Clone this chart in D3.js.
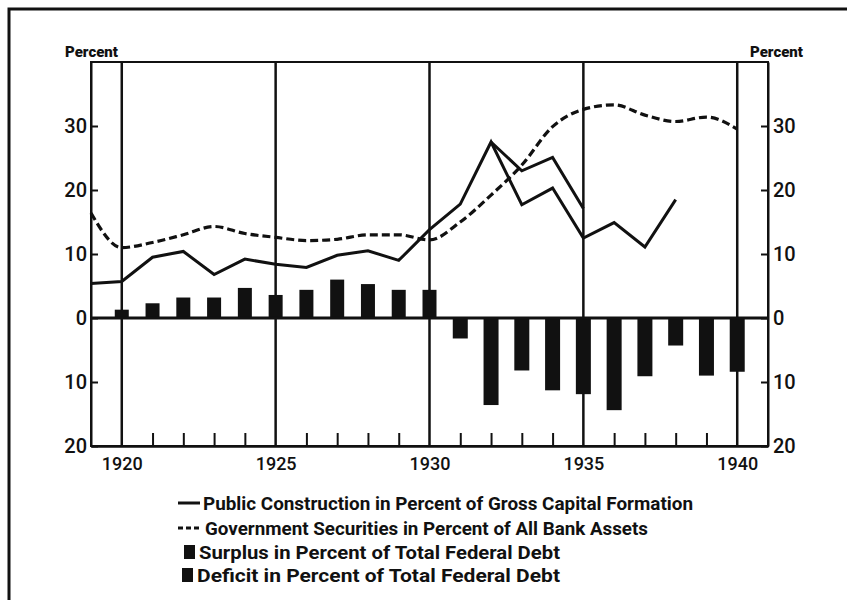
<!DOCTYPE html>
<html><head><meta charset="utf-8">
<script src="https://cdn.jsdelivr.net/npm/d3@7"></script>
<style>body{margin:0;background:#fff}svg{display:block}</style>
</head><body><svg id="c" width="847" height="600"></svg>
<script>
// ---- data ----
const lineYears = [1919,1920,1921,1922,1923,1924,1925,1926,1927,1928,1929,1930,1931,1932,1933,1934,1935,1936,1937,1938];
const publicConstruction = [5.4,5.7,9.5,10.4,6.8,9.2,8.4,7.9,9.8,10.5,9.0,13.8,17.8,27.5,17.7,20.3,12.5,14.9,11.1,18.5];
const altYears = [1932,1933,1934,1935];
const publicConstructionAlt = [27.5,23.0,25.1,17.1];
const govYears = [1919,1920,1921,1922,1923,1924,1925,1926,1927,1928,1929,1930,1931,1932,1933,1934,1935,1936,1937,1938,1939,1940];
const govSecurities = [16.4,11.0,11.8,13.0,14.3,13.2,12.6,12.1,12.3,13.0,13.0,12.2,15.0,19.2,23.9,29.9,32.6,33.3,31.7,30.7,31.4,29.5];
const surplusYears = [1920,1921,1922,1923,1924,1925,1926,1927,1928,1929,1930];
const surplus = [1.3,2.3,3.2,3.2,4.7,3.6,4.4,6.0,5.3,4.4,4.4];
const deficitYears = [1931,1932,1933,1934,1935,1936,1937,1938,1939,1940];
const deficit = [3.2,13.6,8.2,11.3,11.9,14.4,9.1,4.3,9.0,8.4];
const majorYears = [1920,1925,1930,1935,1940];
const minorYears = [1921,1922,1923,1924,1926,1927,1928,1929,1931,1932,1933,1934,1936,1937,1938,1939];
const yTicks = [-20,-10,0,10,20,30];
const legendLabels = [
  "Public Construction in Percent of Gross Capital Formation",
  "Government Securities in Percent of All Bank Assets",
  "Surplus in Percent of Total Federal Debt",
  "Deficit in Percent of Total Federal Debt"
];

const svg = d3.select("#c");
const L = 91, R = 768, T = 62, B = 446;
const x = d3.scaleLinear().domain([1919, 1941]).range([L, R]);
const y = d3.scaleLinear().domain([-20, 40]).range([B, T]);
const FONT = "Roboto, 'DejaVu Sans', sans-serif";
const ink = "#111";

// page border (scan frame)
svg.append("path").attr("d", "M9,600 V9 H847").attr("fill", "none").attr("stroke", ink).attr("stroke-width", 3);

// plot frame
svg.append("rect").attr("x", L).attr("y", T).attr("width", R - L).attr("height", B - T)
  .attr("fill", "none").attr("stroke", ink).attr("stroke-width", 2);

// major vertical grid lines
svg.append("g").selectAll("line").data(majorYears).join("line")
  .attr("x1", d => x(d)).attr("x2", d => x(d)).attr("y1", T).attr("y2", B)
  .attr("stroke", ink).attr("stroke-width", 2.5);

// axes
const axL = svg.append("g").attr("transform", `translate(${L},0)`)
  .call(d3.axisLeft(y).tickValues(yTicks).tickSize(-7).tickSizeOuter(0).tickPadding(4).tickFormat(d => Math.abs(d)));
const axR = svg.append("g").attr("transform", `translate(${R},0)`)
  .call(d3.axisRight(y).tickValues(yTicks).tickSize(-7).tickSizeOuter(0).tickPadding(5).tickFormat(d => Math.abs(d)));
const axB = svg.append("g").attr("transform", `translate(0,${B})`)
  .call(d3.axisBottom(x).tickValues(majorYears).tickSize(0).tickPadding(11).tickFormat(d3.format("d")));
const axM = svg.append("g").attr("transform", `translate(0,${B})`)
  .call(d3.axisBottom(x).tickValues(minorYears).tickSize(-13).tickSizeOuter(0).tickFormat(""));
[axL, axR, axB, axM].forEach(g => {
  g.select(".domain").attr("stroke", ink).attr("stroke-width", 2);
  g.selectAll(".tick line").attr("stroke", ink).attr("stroke-width", 2);
  g.selectAll("text").attr("fill", ink).style("font-family", FONT).style("font-weight", 500);
});
axL.selectAll("text").style("font-size", "20px");
axR.selectAll("text").style("font-size", "20px");
axB.selectAll("text").style("font-size", "18px");

// bars
svg.append("g").selectAll("rect").data(surplusYears.map((yr, i) => [yr, surplus[i]])).join("rect")
  .attr("x", d => x(d[0]) - 7).attr("width", 14)
  .attr("y", d => y(d[1])).attr("height", d => y(0) - y(d[1])).attr("fill", ink);
svg.append("g").selectAll("rect").data(deficitYears.map((yr, i) => [yr, -deficit[i]])).join("rect")
  .attr("x", d => x(d[0]) - 7.5).attr("width", 15)
  .attr("y", y(0)).attr("height", d => y(d[1]) - y(0)).attr("fill", ink);

// zero line
svg.append("line").attr("x1", L).attr("x2", R).attr("y1", y(0)).attr("y2", y(0))
  .attr("stroke", ink).attr("stroke-width", 3);

// lines
const solid = d3.line().x(d => x(d[0])).y(d => y(d[1]));
const smooth = d3.line().x(d => x(d[0])).y(d => y(d[1])).curve(d3.curveMonotoneX);
svg.append("path").datum(govYears.map((yr, i) => [yr, govSecurities[i]])).attr("d", smooth)
  .attr("fill", "none").attr("stroke", ink).attr("stroke-width", 3.2).attr("stroke-dasharray", "8,4");
svg.append("path").datum(lineYears.map((yr, i) => [yr, publicConstruction[i]])).attr("d", solid)
  .attr("fill", "none").attr("stroke", ink).attr("stroke-width", 3).attr("stroke-linejoin", "miter");
svg.append("path").datum(altYears.map((yr, i) => [yr, publicConstructionAlt[i]])).attr("d", solid)
  .attr("fill", "none").attr("stroke", ink).attr("stroke-width", 3).attr("stroke-linejoin", "miter");

// "Percent" labels
svg.append("text").attr("x", 65).attr("y", 57).text("Percent")
  .attr("textLength", 53).attr("lengthAdjust", "spacingAndGlyphs")
  .style("font-family", FONT).style("font-weight", 900).style("font-size", "14px").attr("fill", ink);
svg.append("text").attr("x", 750).attr("y", 57).text("Percent")
  .attr("textLength", 53).attr("lengthAdjust", "spacingAndGlyphs")
  .style("font-family", FONT).style("font-weight", 900).style("font-size", "14px").attr("fill", ink);

// legend
const legTextX = [203, 205, 199, 197];
const legEnd = [693, 648, 560, 560];
const legBase = [510, 535, 559, 582];
const lg = svg.append("g");
legendLabels.forEach((t, i) => {
  lg.append("text").attr("x", legTextX[i]).attr("y", legBase[i]).text(t)
    .attr("textLength", legEnd[i] - legTextX[i]).attr("lengthAdjust", "spacingAndGlyphs")
    .style("font-family", FONT).style("font-weight", 700).style("font-size", "18px").attr("fill", ink);
});
lg.append("line").attr("x1", 178).attr("x2", 200).attr("y1", 503).attr("y2", 503)
  .attr("stroke", ink).attr("stroke-width", 3);
lg.append("line").attr("x1", 178).attr("x2", 202).attr("y1", 528).attr("y2", 528)
  .attr("stroke", ink).attr("stroke-width", 3).attr("stroke-dasharray", "5,3");
lg.append("rect").attr("x", 184).attr("y", legBase[2] - 14).attr("width", 11).attr("height", 14).attr("fill", ink);
lg.append("rect").attr("x", 182).attr("y", legBase[3] - 14).attr("width", 11).attr("height", 14).attr("fill", ink);
</script>
</body></html>
